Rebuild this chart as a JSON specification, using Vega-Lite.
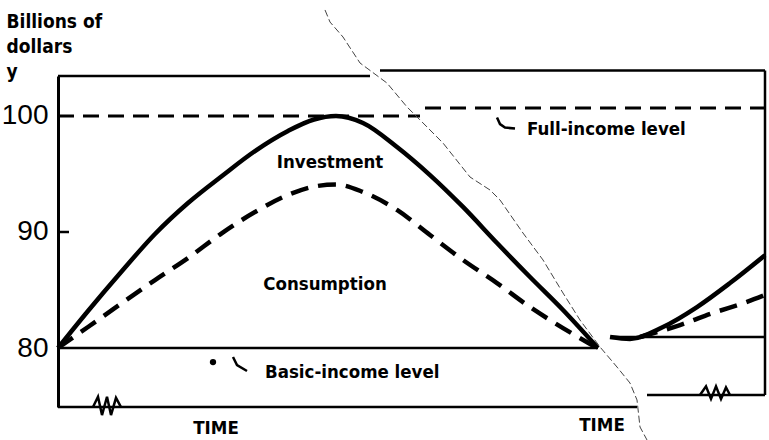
{
  "$schema": "https://vega.github.io/schema/vega-lite/v6.json",
  "autosize": "none",
  "width": 707,
  "height": 331,
  "padding": {"left": 58, "top": 76, "right": 4, "bottom": 33},
  "background": "white",
  "config": {"view": {"stroke": null}, "font": "DejaVu Sans Condensed"},
  "datasets": {
    "levels": [
      {"piece": "top-left", "t1": 0, "t2": 312, "v1": 103.45, "v2": 103.45},
      {"piece": "top-right", "t1": 322, "t2": 707, "v1": 103.92, "v2": 103.92},
      {"piece": "basic-left", "t1": 0, "t2": 540, "v1": 80, "v2": 80},
      {"piece": "basic-right", "t1": 554, "t2": 707, "v1": 80.95, "v2": 80.95},
      {"piece": "bottom-left", "t1": 0, "t2": 579, "v1": 74.91, "v2": 74.91},
      {"piece": "bottom-right", "t1": 589, "t2": 707, "v1": 75.95, "v2": 75.95},
      {"piece": "right-edge", "t1": 707, "t2": 707, "v1": 75.95, "v2": 103.92},
      {"piece": "tick-90", "t1": 0, "t2": 11, "v1": 90, "v2": 90}
    ],
    "full": [
      {"piece": "full-left", "t1": 0, "t2": 362, "v1": 100, "v2": 100},
      {"piece": "full-right", "t1": 367, "t2": 707, "v1": 100.69, "v2": 100.69}
    ],
    "total": [
      {"piece": "L", "t": 0, "y": 80},
      {"piece": "L", "t": 30, "y": 83.19},
      {"piece": "L", "t": 64, "y": 86.64},
      {"piece": "L", "t": 97, "y": 89.83},
      {"piece": "L", "t": 130, "y": 92.5},
      {"piece": "L", "t": 164, "y": 94.83},
      {"piece": "L", "t": 197, "y": 96.98},
      {"piece": "L", "t": 230, "y": 98.71},
      {"piece": "L", "t": 256, "y": 99.7},
      {"piece": "L", "t": 278, "y": 100},
      {"piece": "L", "t": 305, "y": 99.4},
      {"piece": "L", "t": 339, "y": 97.33},
      {"piece": "L", "t": 372, "y": 94.91},
      {"piece": "L", "t": 405, "y": 92.16},
      {"piece": "L", "t": 439, "y": 89.05},
      {"piece": "L", "t": 472, "y": 86.12},
      {"piece": "L", "t": 505, "y": 83.28},
      {"piece": "L", "t": 540, "y": 80},
      {"piece": "R", "t": 552, "y": 80.95},
      {"piece": "R", "t": 572, "y": 80.78},
      {"piece": "R", "t": 605, "y": 81.81},
      {"piece": "R", "t": 639, "y": 83.53},
      {"piece": "R", "t": 672, "y": 85.6},
      {"piece": "R", "t": 707, "y": 88.0}
    ],
    "consumption": [
      {"piece": "L", "t": 0, "y": 80},
      {"piece": "L", "t": 30, "y": 81.81},
      {"piece": "L", "t": 64, "y": 83.88},
      {"piece": "L", "t": 97, "y": 85.86},
      {"piece": "L", "t": 130, "y": 87.76},
      {"piece": "L", "t": 164, "y": 89.91},
      {"piece": "L", "t": 197, "y": 91.72},
      {"piece": "L", "t": 230, "y": 93.19},
      {"piece": "L", "t": 258, "y": 93.95},
      {"piece": "L", "t": 278, "y": 94.1},
      {"piece": "L", "t": 305, "y": 93.45},
      {"piece": "L", "t": 339, "y": 91.9},
      {"piece": "L", "t": 372, "y": 89.74},
      {"piece": "L", "t": 405, "y": 87.59},
      {"piece": "L", "t": 439, "y": 85.6},
      {"piece": "L", "t": 472, "y": 83.53},
      {"piece": "L", "t": 505, "y": 81.72},
      {"piece": "L", "t": 537, "y": 80.1},
      {"piece": "R", "t": 582, "y": 80.95},
      {"piece": "R", "t": 622, "y": 81.98},
      {"piece": "R", "t": 655, "y": 83.02},
      {"piece": "R", "t": 689, "y": 83.97},
      {"piece": "R", "t": 707, "y": 84.57}
    ],
    "marks": [
      {"piece": "zigL", "t": 35, "y": 74.91},
      {"piece": "zigL", "t": 40, "y": 75.8},
      {"piece": "zigL", "t": 44, "y": 74.22},
      {"piece": "zigL", "t": 49, "y": 75.8},
      {"piece": "zigL", "t": 53, "y": 74.22},
      {"piece": "zigL", "t": 58, "y": 75.7},
      {"piece": "zigL", "t": 63, "y": 74.91},
      {"piece": "zigR", "t": 642, "y": 75.95},
      {"piece": "zigR", "t": 648, "y": 76.7},
      {"piece": "zigR", "t": 653, "y": 75.61},
      {"piece": "zigR", "t": 658, "y": 76.7},
      {"piece": "zigR", "t": 663, "y": 75.61},
      {"piece": "zigR", "t": 668, "y": 76.6},
      {"piece": "zigR", "t": 672, "y": 75.95},
      {"piece": "hookFull", "t": 439, "y": 99.87},
      {"piece": "hookFull", "t": 442, "y": 99.3},
      {"piece": "hookFull", "t": 447, "y": 99.0},
      {"piece": "hookFull", "t": 457, "y": 98.92},
      {"piece": "hookBasic", "t": 175, "y": 79.22},
      {"piece": "hookBasic", "t": 179, "y": 78.53},
      {"piece": "hookBasic", "t": 189, "y": 78.02}
    ],
    "tear": [
      {"t": 267, "y": 109.14},
      {"t": 272, "y": 108.1},
      {"t": 285, "y": 106.81},
      {"t": 302, "y": 104.57},
      {"t": 329, "y": 102.84},
      {"t": 349, "y": 100.78},
      {"t": 365, "y": 99.4},
      {"t": 385, "y": 97.67},
      {"t": 412, "y": 94.74},
      {"t": 432, "y": 93.62},
      {"t": 442, "y": 92.76},
      {"t": 465, "y": 89.91},
      {"t": 485, "y": 87.59},
      {"t": 505, "y": 84.74},
      {"t": 522, "y": 82.41},
      {"t": 542, "y": 80.09},
      {"t": 559, "y": 78.36},
      {"t": 572, "y": 76.98},
      {"t": 579, "y": 75.52},
      {"t": 582, "y": 73.19},
      {"t": 589, "y": 72.07}
    ],
    "centerLabels": [
      {"label": "Investment", "t": 272, "y": 96.03},
      {"label": "Consumption", "t": 267, "y": 85.52},
      {"label": "TIME", "t": 158, "y": 73.1},
      {"label": "TIME", "t": 544, "y": 73.36}
    ],
    "leftLabels": [
      {"label": "Full-income level", "t": 469, "y": 98.88},
      {"label": "Basic-income level", "t": 207, "y": 77.93}
    ],
    "blob": [{"t": 155, "y": 78.79}]
  },
  "layer": [
    {
      "data": {"name": "levels"},
      "mark": {"type": "rule", "color": "black", "strokeWidth": 2.5},
      "encoding": {
        "x": {"field": "t1", "type": "quantitative", "scale": {"domain": [0, 707], "nice": false, "zero": false}, "axis": null},
        "x2": {"field": "t2"},
        "y": {"field": "v1", "type": "quantitative",
          "scale": {"domain": [74.914, 103.448], "nice": false, "zero": false},
          "axis": {
            "values": [80, 90, 100], "ticks": false, "grid": false,
            "domainColor": "black", "domainWidth": 3,
            "labelFont": "Liberation Sans", "labelFontSize": 28, "labelColor": "black", "labelPadding": 10,
            "title": ["Billions of", "dollars", "\u00a0y"],
            "titleAngle": 0, "titleAlign": "left", "titleBaseline": "alphabetic",
            "titleX": -52, "titleY": -49, "titleLineHeight": 25,
            "titleFont": "DejaVu Sans Condensed", "titleFontSize": 19, "titleFontWeight": "bold", "titleColor": "black"
          }
        },
        "y2": {"field": "v2"}
      }
    },
    {
      "data": {"name": "full"},
      "mark": {"type": "rule", "color": "black", "strokeWidth": 3, "strokeDash": [16, 9]},
      "encoding": {
        "x": {"field": "t1", "type": "quantitative"},
        "x2": {"field": "t2"},
        "y": {"field": "v1", "type": "quantitative"},
        "y2": {"field": "v2"}
      }
    },
    {
      "data": {"name": "total"},
      "mark": {"type": "line", "color": "black", "strokeWidth": 4.5, "interpolate": "monotone"},
      "encoding": {
        "x": {"field": "t", "type": "quantitative"},
        "y": {"field": "y", "type": "quantitative"},
        "detail": {"field": "piece"}
      }
    },
    {
      "data": {"name": "consumption"},
      "mark": {"type": "line", "color": "black", "strokeWidth": 4.5, "strokeDash": [18, 10], "interpolate": "monotone"},
      "encoding": {
        "x": {"field": "t", "type": "quantitative"},
        "y": {"field": "y", "type": "quantitative"},
        "detail": {"field": "piece"}
      }
    },
    {
      "data": {"name": "marks"},
      "mark": {"type": "line", "color": "black", "strokeWidth": 2.5},
      "encoding": {
        "x": {"field": "t", "type": "quantitative"},
        "y": {"field": "y", "type": "quantitative"},
        "detail": {"field": "piece"}
      }
    },
    {
      "data": {"name": "tear"},
      "mark": {"type": "line", "color": "#444444", "strokeWidth": 1, "strokeDash": [7, 3]},
      "encoding": {
        "x": {"field": "t", "type": "quantitative"},
        "y": {"field": "y", "type": "quantitative"}
      }
    },
    {
      "data": {"name": "blob"},
      "mark": {"type": "point", "filled": true, "color": "black", "size": 40, "opacity": 1},
      "encoding": {
        "x": {"field": "t", "type": "quantitative"},
        "y": {"field": "y", "type": "quantitative"}
      }
    },
    {
      "data": {"name": "centerLabels"},
      "mark": {"type": "text", "color": "black", "font": "DejaVu Sans Condensed", "fontWeight": "bold", "fontSize": 18.5, "baseline": "middle", "align": "center"},
      "encoding": {
        "x": {"field": "t", "type": "quantitative"},
        "y": {"field": "y", "type": "quantitative"},
        "text": {"field": "label"}
      }
    },
    {
      "data": {"name": "leftLabels"},
      "mark": {"type": "text", "color": "black", "font": "DejaVu Sans Condensed", "fontWeight": "bold", "fontSize": 18.5, "baseline": "middle", "align": "left"},
      "encoding": {
        "x": {"field": "t", "type": "quantitative"},
        "y": {"field": "y", "type": "quantitative"},
        "text": {"field": "label"}
      }
    }
  ]
}
